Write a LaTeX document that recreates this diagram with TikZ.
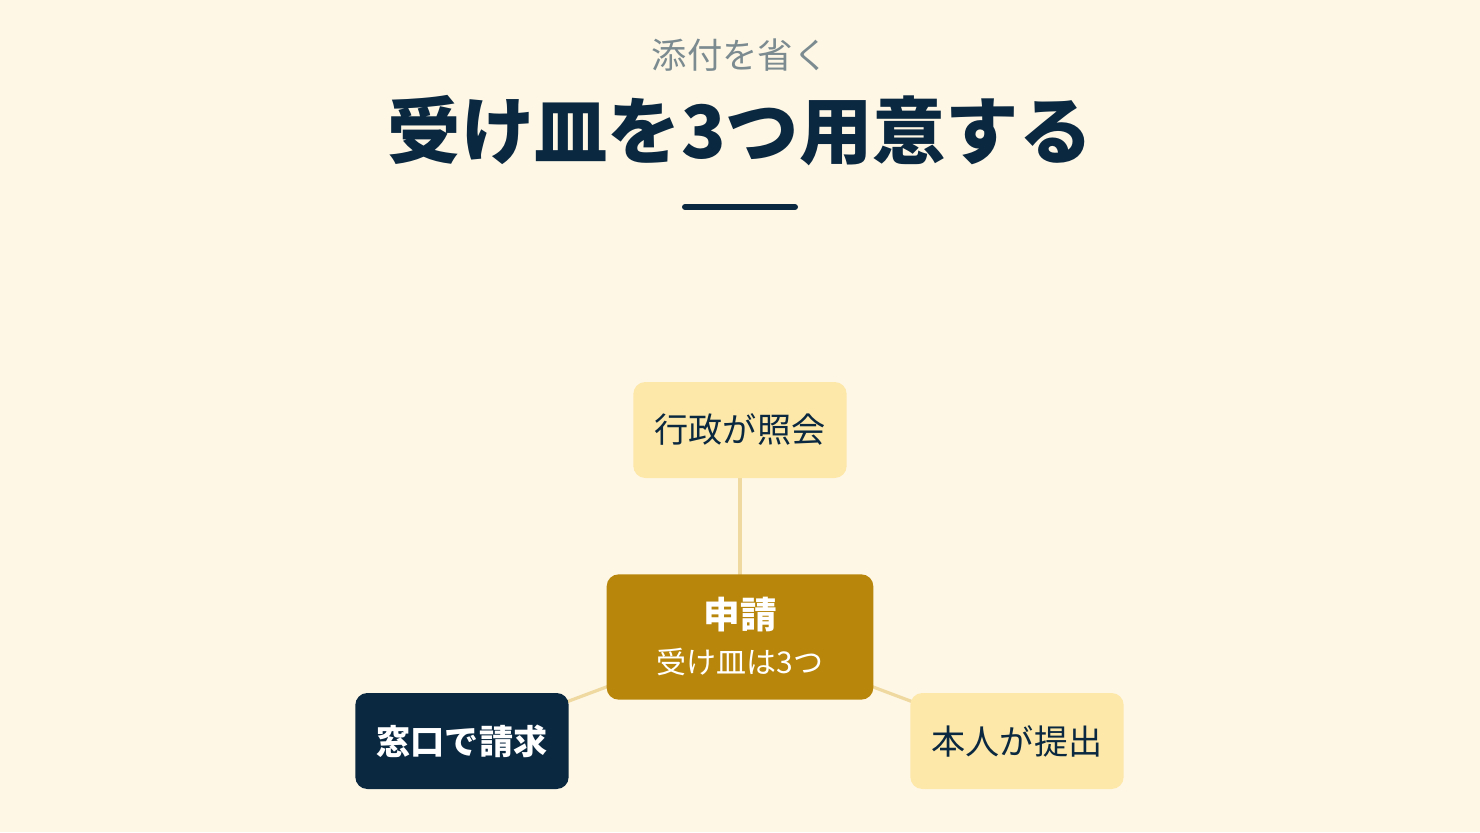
\documentclass[tikz,border=0pt]{standalone}
\usepackage{fontspec}
\setmainfont{Noto Sans CJK JP}
\newfontfamily\cjk{Noto Sans CJK JP}
\definecolor{bgc}{HTML}{FEF7E6}
\definecolor{navy}{HTML}{0A2840}
\definecolor{subgray}{HTML}{7B8B90}
\definecolor{gold}{HTML}{B8860B}
\definecolor{lightgold}{HTML}{FDE8AA}
\definecolor{linec}{HTML}{EFD9A0}
\begin{document}
\begin{tikzpicture}[x=0.75pt,y=-0.75pt,
  box/.style={rounded corners=9pt,minimum width=160pt,minimum height=72pt,inner sep=0pt,align=center},
  lightbox/.style={box,fill=lightgold,text=navy,font=\cjk\fontsize{25.6}{30}\selectfont},
  darkbox/.style={box,fill=navy,text=white,font=\cjk\bfseries\fontsize{25.6}{30}\selectfont},
  centerbox/.style={box,fill=gold,text=white,minimum width=200pt,minimum height=94pt},
  conn/.style={draw=linec,line width=2.4pt}]
\fill[bgc] (0,0) rectangle (1480,832);
\useasboundingbox (0,0) rectangle (1480,832);
\node[text=subgray,font=\cjk\fontsize{26.5}{30}\selectfont] (sub) at (740,55) {添付を省く};
\node[text=navy,font=\cjk\bfseries\fontsize{55}{62}\selectfont] (title) at (740,131) {受け皿を3つ用意する};
\coordinate (r1) at (685,207);
\coordinate (r2) at (795,207);
\draw[navy,line width=4.5pt,line cap=round] (r1) -- (r2);
\coordinate (cc) at (740,637);
\coordinate (tc) at (740,430);
\coordinate (lc) at (462,741);
\coordinate (rc) at (1017,741);
\draw[conn] (cc) -- (tc);
\draw[conn] (cc) -- (lc);
\draw[conn] (cc) -- (rc);
\node[lightbox] (top) at (tc) {行政が照会};
\node[darkbox] (left) at (lc) {窓口で請求};
\node[lightbox] (right) at (rc) {本人が提出};
\node[centerbox] (center) at (cc) {};
\node[text=white,font=\cjk\bfseries\fontsize{27.5}{30}\selectfont] (c1) at (740,615) {申請};
\node[text=white,font=\cjk\fontsize{22.5}{26}\selectfont] (c2) at (740,662) {受け皿は3つ};
\end{tikzpicture}
\end{document}
